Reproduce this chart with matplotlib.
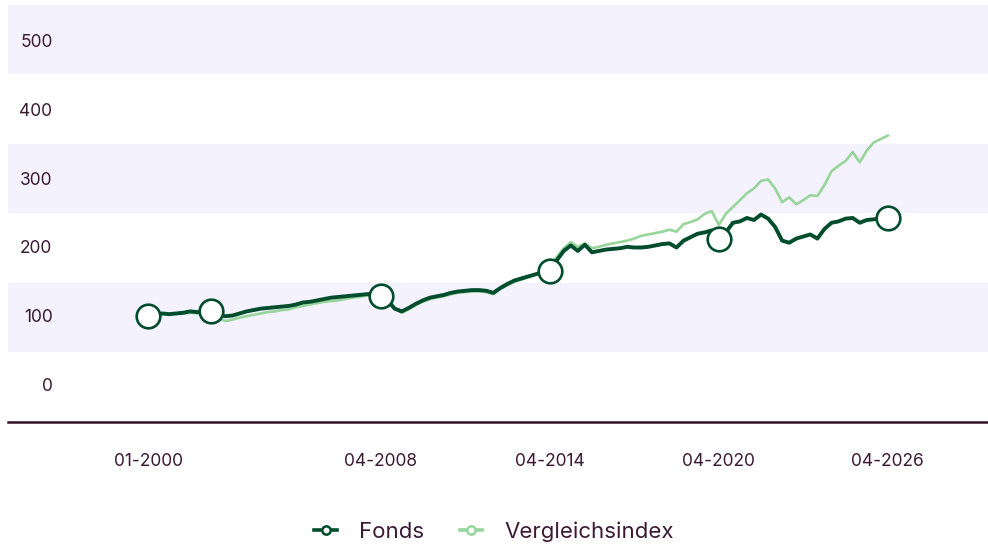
import pandas as pd
import matplotlib.pyplot as plt
import matplotlib.dates as mdates
from matplotlib.lines import Line2D

# quarterly values, 01-2000 .. 04-2026 (indexed, start = 100)
fonds = [
    100, 101, 103, 102,
    103, 104, 106, 105,
    106, 107, 101, 99,
    100, 103, 106, 108,
    110, 111, 112, 113,
    114, 116, 119, 120,
    122, 124, 126, 127,
    128, 129, 130, 131,
    132, 128, 122, 110,
    106, 111, 117, 122,
    126, 128, 130, 133,
    135, 136, 137, 137,
    136, 133, 140, 146,
    151, 154, 157, 160,
    163, 165, 180, 194,
    202, 194, 203, 192,
    194, 196, 197, 198,
    200, 199, 199, 200,
    202, 204, 205, 199,
    209, 214, 219, 221,
    224, 212, 221, 235,
    237, 242, 239, 247,
    241, 229, 209, 206,
    212, 215, 218, 212,
    226, 235, 237, 241,
    242, 235, 239, 240,
    242, 242,
]
vergleichsindex = [
    100, 100, 102, 102,
    103, 103, 104, 103,
    104, 100, 96, 92,
    94, 97, 99, 101,
    103, 105, 106, 108,
    109, 112, 114, 116,
    118, 120, 121, 122,
    124, 126, 127, 129,
    130, 128, 120, 110,
    104, 109, 115, 120,
    124, 126, 128, 131,
    133, 134, 135, 135,
    134, 131, 139, 144,
    149, 152, 156, 160,
    164, 172, 185, 198,
    207, 200, 205, 198,
    200, 203, 205, 207,
    209, 212, 216, 218,
    220, 222, 225, 222,
    233, 236, 240, 248,
    252, 232, 248, 258,
    268, 278, 285, 296,
    298, 285, 265, 272,
    262, 268, 275, 274,
    290, 310, 318, 325,
    338, 323, 340, 352,
    357, 362,
]
dates = pd.date_range('2000-01-01', periods=len(fonds), freq='QS')
marker_idx = [0, 9, 33, 57, 81, 105]
tick_dates = pd.to_datetime(['2000-01-01', '2008-04-01', '2014-04-01', '2020-04-01', '2026-04-01'])
y_ticks = [0, 100, 200, 300, 400, 500]
bands = [(47, 147), (249, 350), (451, 552)]

text_color = '#3b1a33'
fonds_color = '#004d2e'
index_color = '#97d59b'
band_color = '#f4f2fe'

plt.rcParams['font.family'] = ['Inter', 'DejaVu Sans']

fig = plt.figure(figsize=(9.88, 5.47), dpi=100)
ax = fig.add_axes([8 / 988, 125 / 547, 980 / 988, 417 / 547])

for lo, hi in bands:
    ax.axhspan(lo, hi, color=band_color, lw=0, zorder=0)

ax.plot(dates, vergleichsindex, color=index_color, lw=1.9, zorder=2)
ax.plot(dates, fonds, color=fonds_color, lw=2.8, zorder=3,
        marker='o', markevery=marker_idx, markersize=17,
        markerfacecolor='white', markeredgecolor=fonds_color, markeredgewidth=1.9)

ax.set_xlim(pd.Timestamp('1995-01-12'), pd.Timestamp('2029-10-20'))
ax.set_ylim(-55, 552)

ax.set_xticks(tick_dates)
ax.xaxis.set_major_formatter(mdates.DateFormatter('%m-%Y'))
ax.set_yticks(y_ticks)
ax.tick_params(axis='x', length=0, pad=22, labelsize=12.5, labelcolor=text_color)
ax.tick_params(axis='y', length=0, pad=-32, labelsize=12.5, labelcolor=text_color)

for side in ['top', 'right', 'left']:
    ax.spines[side].set_visible(False)
ax.spines['bottom'].set_color('#33142b')
ax.spines['bottom'].set_linewidth(1.8)
ax.set_facecolor('white')

handles = [
    Line2D([], [], color=fonds_color, lw=2.6, marker='o', markersize=6,
           markerfacecolor='white', markeredgewidth=1.8),
    Line2D([], [], color=index_color, lw=2.6, marker='o', markersize=6,
           markerfacecolor='white', markeredgewidth=1.8),
]
fig.legend(handles, ['Fonds', 'Vergleichsindex'], loc='center', bbox_to_anchor=(0.5, 15 / 547),
           ncol=2, frameon=False, fontsize=16, labelcolor=text_color,
           handlelength=1.0, handletextpad=1.0, columnspacing=1.6)

plt.savefig('out.png', dpi=100)
